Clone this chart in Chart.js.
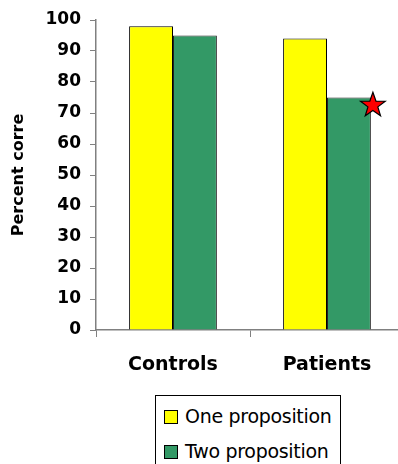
<!DOCTYPE html>
<html>
<head>
<meta charset="utf-8">
<script src="https://cdn.jsdelivr.net/npm/chart.js@4.4.1/dist/chart.umd.min.js"></script>
<style>
  html, body { margin: 0; padding: 0; background: #fff; overflow: hidden; }
  #wrap { position: relative; width: 404px; height: 464px; }
  #legend {
    position: absolute; left: 155px; top: 395px; width: 186px; height: 80px;
    border: 1px solid #000; box-sizing: border-box; background: #fff;
    font-family: "DejaVu Sans", sans-serif; font-size: 19px; color: #000;
  }
  .item { position: absolute; left: 8px; height: 22px; line-height: 22px; white-space: nowrap; letter-spacing: -0.3px; }
  .item span.box { display: inline-block; width: 12px; height: 12px; border: 1px solid #000; vertical-align: -1px; margin-right: 7px; }
</style>
</head>
<body>
<div id="wrap">
  <canvas id="barChart" width="404" height="464"></canvas>
  <div id="legend"></div>
</div>
<script>
// data
const categories = ['Controls', 'Patients'];
const seriesNames = ['One proposition', 'Two proposition'];
const oneProposition = [98, 94];
const twoProposition = [95, 75];
const yTicks = [0, 10, 20, 30, 40, 50, 60, 70, 80, 90, 100];
const starValue = 72.5; // marker on the patients / two proposition bar

const colors = ['#ffff00', '#339966'];

// five point star drawn next to the patients' second bar
const starPlugin = {
    id: 'star',
    afterDatasetsDraw(chart) {
        const bar = chart.getDatasetMeta(1).data[1];
        const cx = bar.x + bar.width / 2 + 2;
        const cy = chart.scales.y.getPixelForValue(starValue);
        const ctx = chart.ctx;
        const outer = 13, inner = 5.2;
        ctx.save();
        ctx.beginPath();
        for (let i = 0; i < 10; i++) {
            const r = i % 2 === 0 ? outer : inner;
            const a = -Math.PI / 2 + i * Math.PI / 5;
            const px = cx + r * Math.cos(a), py = cy + r * Math.sin(a);
            if (i === 0) ctx.moveTo(px, py); else ctx.lineTo(px, py);
        }
        ctx.closePath();
        ctx.fillStyle = '#ff0000';
        ctx.fill();
        ctx.lineWidth = 1.2;
        ctx.strokeStyle = '#000';
        ctx.stroke();
        ctx.restore();
    }
};

document.addEventListener("DOMContentLoaded", function () {
    const ctx = document.getElementById('barChart').getContext('2d');
    const chart = new Chart(ctx, {
        type: 'bar',
        data: {
            labels: categories,
            datasets: [{
                label: seriesNames[0],
                data: oneProposition,
                backgroundColor: colors[0],
                borderColor: '#000',
                borderWidth: 1
            }, {
                label: seriesNames[1],
                data: twoProposition,
                backgroundColor: colors[1],
                borderColor: '#222',
                borderWidth: 1
            }]
        },
        options: {
            responsive: false,
            animation: false,
            layout: { padding: { top: 20, left: 9, right: 0, bottom: 74 } },
            plugins: {
                legend: { display: false },
                tooltip: { enabled: false }
            },
            datasets: {
                bar: { barPercentage: 1, categoryPercentage: 0.57 }
            },
            scales: {
                x: {
                    grid: { offset: true, drawOnChartArea: false, color: '#808080', tickLength: 7 },
                    border: { color: '#808080', width: 1.5 },
                    ticks: {
                        color: '#000',
                        padding: 17,
                        font: { family: 'DejaVu Sans', size: 19, weight: 'bold' }
                    },
                    afterFit(scale) { scale.height = 60; }
                },
                y: {
                    min: 0,
                    max: 100,
                    afterBuildTicks(scale) { scale.ticks = yTicks.map(v => ({ value: v })); },
                    grid: { drawOnChartArea: false, color: '#808080', tickLength: 6 },
                    border: { color: '#808080', width: 1.5 },
                    ticks: {
                        color: '#000',
                        padding: 9,
                        font: { family: 'DejaVu Sans', size: 17, weight: 'bold' }
                    },
                    title: {
                        display: true,
                        text: 'Percent corre',
                        color: '#000',
                        padding: { top: 0, bottom: 0 },
                        font: { family: 'DejaVu Sans', size: 16, weight: 'bold' }
                    },
                    afterFit(scale) { scale.width = 87; }
                }
            }
        },
        plugins: [starPlugin]
    });

    // legend box, one entry per row
    const legend = document.getElementById('legend');
    seriesNames.forEach(function (name, i) {
        const div = document.createElement('div');
        div.className = 'item';
        div.style.top = (9 + i * 35) + 'px';
        div.innerHTML = '<span class="box" style="background:' + colors[i] + '"></span>' + name;
        legend.appendChild(div);
    });
});
</script>
</body>
</html>
